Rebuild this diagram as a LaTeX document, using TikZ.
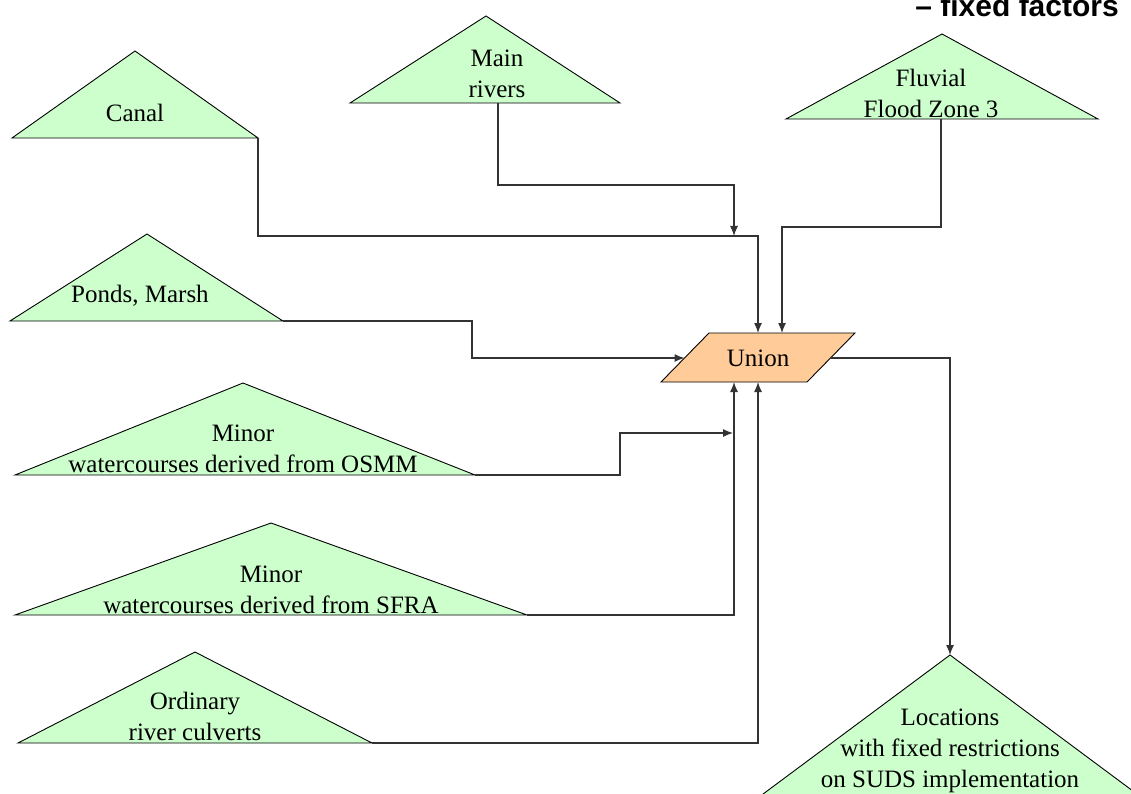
\documentclass[tikz,border=0pt]{standalone}
\usepackage{fontspec}
\setmainfont{Liberation Serif}
\newfontfamily\titlefont{Liberation Sans}
\usetikzlibrary{arrows.meta}
\definecolor{srcgreen}{HTML}{CCFFCC}
\definecolor{opfill}{HTML}{FFCC99}
\tikzset{
  srcshape/.style={draw=black, fill=srcgreen, line width=0.9pt, line join=miter},
  opshape/.style={draw=black, fill=opfill, line width=0.9pt},
  lbl/.style={align=center, inner sep=0pt, font=\fontsize{25}{31}\selectfont},
  conn/.style={draw=black!80, line width=1.2pt},
  arr/.style={conn, -{Latex[length=10pt,width=8pt]}},
}
\begin{document}
\begin{tikzpicture}[x=1pt, y=-1pt]
\useasboundingbox (0,0) rectangle (1131,794);

% heading (runs off the top edge of the page)
\node[anchor=base east, inner sep=0pt, font=\titlefont\bfseries\fontsize{30}{34}\selectfont]
  (title) at (1119,17) {– fixed factors};

% ---- source layers (triangles) ----
% Canal
\coordinate (canalL) at (12,138);
\coordinate (canalR) at (258,138);
\coordinate (canalA) at (135,51);
\path[srcshape] (canalL) -- (canalR) -- (canalA) -- cycle;
\node[lbl] (canal) at (135,113) {Canal};

% Main rivers
\coordinate (mainL) at (350,103);
\coordinate (mainR) at (620,103);
\coordinate (mainA) at (486,16);
\path[srcshape] (mainL) -- (mainR) -- (mainA) -- cycle;
\node[lbl] (main) at (497,74) {Main\\rivers};
\coordinate (mainOut) at (498,103);

% Fluvial Flood Zone 3
\coordinate (fluvL) at (786,119);
\coordinate (fluvR) at (1098,119);
\coordinate (fluvA) at (942,34);
\path[srcshape] (fluvL) -- (fluvR) -- (fluvA) -- cycle;
\node[lbl] (fluv) at (931,93) {Fluvial\\Flood Zone 3};
\coordinate (fluvOut) at (941,119);

% Ponds, Marsh
\coordinate (pondL) at (10,321);
\coordinate (pondR) at (283,321);
\coordinate (pondA) at (147,234);
\path[srcshape] (pondL) -- (pondR) -- (pondA) -- cycle;
\node[lbl] (pond) at (140,296) {Ponds, Marsh};

% Minor watercourses (OSMM)
\coordinate (osmmL) at (15,475);
\coordinate (osmmR) at (475,475);
\coordinate (osmmA) at (243,383);
\path[srcshape] (osmmL) -- (osmmR) -- (osmmA) -- cycle;
\node[lbl] (osmm) at (243,449) {Minor\\watercourses derived from OSMM};

% Minor watercourses (SFRA)
\coordinate (sfraL) at (15,615);
\coordinate (sfraR) at (527,615);
\coordinate (sfraA) at (271,523);
\path[srcshape] (sfraL) -- (sfraR) -- (sfraA) -- cycle;
\node[lbl] (sfra) at (271,590) {Minor\\watercourses derived from SFRA};

% Ordinary river culverts
\coordinate (culvL) at (18,743);
\coordinate (culvR) at (372,743);
\coordinate (culvA) at (195,652);
\path[srcshape] (culvL) -- (culvR) -- (culvA) -- cycle;
\node[lbl] (culv) at (195,716) {Ordinary\\river culverts};

% ---- union operation (parallelogram) ----
\coordinate (uTL) at (709,333);
\coordinate (uTR) at (855,333);
\coordinate (uBR) at (807,382);
\coordinate (uBL) at (661,382);
\path[opshape] (uTL) -- (uTR) -- (uBR) -- (uBL) -- cycle;
\node[lbl] (union) at (758,358) {Union};
\coordinate (uT1) at (758,333);
\coordinate (uT2) at (782,333);
\coordinate (uB1) at (734,382);
\coordinate (uB2) at (758,382);
\coordinate (uLeft) at (684.5,358);
\coordinate (uRight) at (831,358);

% ---- output layer ----
\coordinate (locA) at (950,655);
\coordinate (locL) at (755,800);
\coordinate (locR) at (1145,800);
\path[srcshape] (locL) -- (locR) -- (locA) -- cycle;
\node[lbl] (loc) at (950,751) {Locations\\with fixed restrictions\\on SUDS implementation};

% ---- connectors ----
\coordinate (canalBend) at (758,236);
\coordinate (mainBend) at (734,185);
\coordinate (mainTip) at (734,236);
\coordinate (fluvBend) at (782,227);
\coordinate (pondBend) at (472,358);
\coordinate (osmmBend) at (620,433);
\coordinate (osmmTip) at (733,433);

\draw[arr] (canalR) |- (canalBend) -- (uT1);
\draw[arr] (mainOut) |- (mainBend) -- (mainTip);
\draw[arr] (fluvOut) |- (fluvBend) -- (uT2);
\draw[arr] (pondR) -| (pondBend) -- (uLeft);
\draw[arr] (osmmR) -| (osmmBend) -- (osmmTip);
\draw[arr] (sfraR) -| (uB1);
\draw[arr] (culvR) -| (uB2);
\draw[arr] (uRight) -| (locA);
\end{tikzpicture}
\end{document}
